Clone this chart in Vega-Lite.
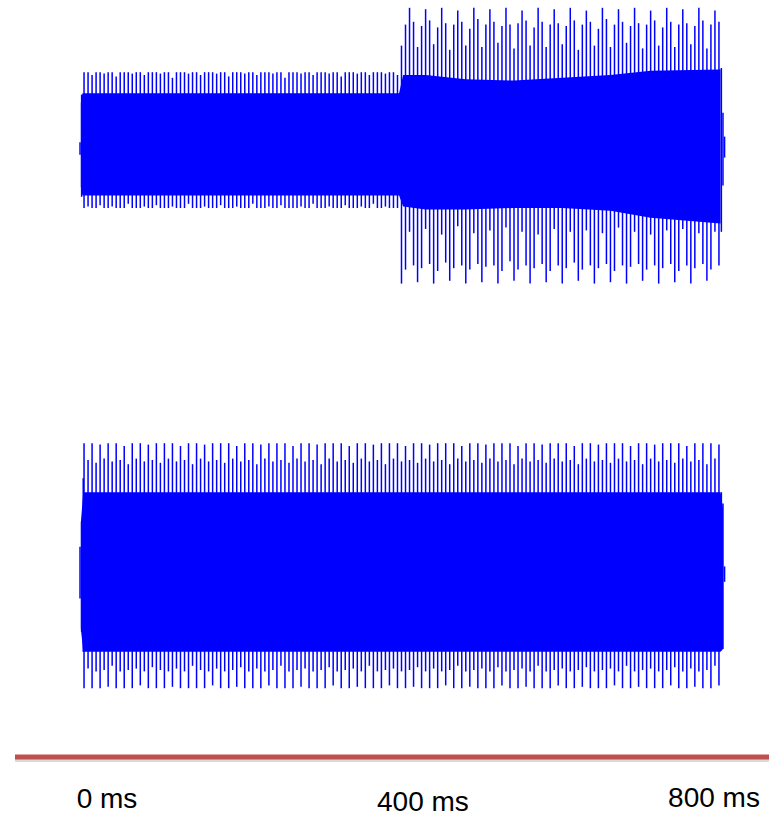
{
"$schema": "https://vega.github.io/schema/vega-lite/v6.json",
"padding": {"left": 12, "top": 0, "right": 0, "bottom": 0},
"spacing": 0,
"config": {"view": {"stroke": null}},
"datasets": {
"topc": [{"t":1,"a":0.3,"b":-0.3},{"t":3,"a":0.37,"b":-0.36},{"t":397,"a":0.37,"b":-0.36},{"t":402,"a":0.5,"b":-0.44},{"t":430,"a":0.5,"b":-0.46},{"t":480,"a":0.47,"b":-0.46},{"t":540,"a":0.46,"b":-0.45},{"t":600,"a":0.48,"b":-0.45},{"t":660,"a":0.5,"b":-0.47},{"t":710,"a":0.53,"b":-0.52},{"t":797,"a":0.54,"b":-0.56}],
"top": [
{"t":0,"h":0.02,"l":-0.07},{"t":2,"h":0.36,"l":-0.37},
{"t":5,"h":0.52,"l":-0.45},{"t":10,"h":0.52,"l":-0.44},{"t":15,"h":0.50,"l":-0.45},{"t":20,"h":0.52,"l":-0.45},{"t":25,"h":0.52,"l":-0.43},{"t":30,"h":0.51,"l":-0.45},{"t":35,"h":0.52,"l":-0.45},{"t":40,"h":0.52,"l":-0.44},{"t":45,"h":0.49,"l":-0.45},{"t":50,"h":0.52,"l":-0.45},
{"t":55,"h":0.52,"l":-0.45},{"t":60,"h":0.52,"l":-0.42},{"t":65,"h":0.51,"l":-0.45},{"t":70,"h":0.52,"l":-0.45},{"t":75,"h":0.52,"l":-0.45},{"t":80,"h":0.50,"l":-0.44},{"t":85,"h":0.52,"l":-0.45},{"t":90,"h":0.52,"l":-0.45},{"t":95,"h":0.52,"l":-0.43},{"t":100,"h":0.51,"l":-0.45},
{"t":105,"h":0.52,"l":-0.45},{"t":110,"h":0.52,"l":-0.45},{"t":115,"h":0.48,"l":-0.44},{"t":120,"h":0.52,"l":-0.45},{"t":125,"h":0.52,"l":-0.45},{"t":130,"h":0.52,"l":-0.45},{"t":135,"h":0.51,"l":-0.42},{"t":140,"h":0.52,"l":-0.45},{"t":145,"h":0.52,"l":-0.45},{"t":150,"h":0.50,"l":-0.45},
{"t":155,"h":0.52,"l":-0.44},{"t":160,"h":0.52,"l":-0.45},{"t":165,"h":0.52,"l":-0.45},{"t":170,"h":0.51,"l":-0.45},{"t":175,"h":0.52,"l":-0.43},{"t":180,"h":0.52,"l":-0.45},{"t":185,"h":0.49,"l":-0.45},{"t":190,"h":0.52,"l":-0.45},{"t":195,"h":0.52,"l":-0.44},{"t":200,"h":0.52,"l":-0.45},
{"t":205,"h":0.51,"l":-0.45},{"t":210,"h":0.52,"l":-0.45},{"t":215,"h":0.52,"l":-0.42},{"t":220,"h":0.50,"l":-0.45},{"t":225,"h":0.52,"l":-0.45},{"t":230,"h":0.52,"l":-0.45},{"t":235,"h":0.52,"l":-0.44},{"t":240,"h":0.51,"l":-0.45},{"t":245,"h":0.52,"l":-0.45},{"t":250,"h":0.52,"l":-0.43},
{"t":255,"h":0.48,"l":-0.45},{"t":260,"h":0.52,"l":-0.45},{"t":265,"h":0.52,"l":-0.45},{"t":270,"h":0.52,"l":-0.45},{"t":275,"h":0.51,"l":-0.44},{"t":280,"h":0.52,"l":-0.45},{"t":285,"h":0.52,"l":-0.45},{"t":290,"h":0.50,"l":-0.42},{"t":295,"h":0.52,"l":-0.45},{"t":300,"h":0.52,"l":-0.45},
{"t":305,"h":0.52,"l":-0.45},{"t":310,"h":0.51,"l":-0.44},{"t":315,"h":0.52,"l":-0.45},{"t":320,"h":0.52,"l":-0.45},{"t":325,"h":0.49,"l":-0.45},{"t":330,"h":0.52,"l":-0.43},{"t":335,"h":0.52,"l":-0.45},{"t":340,"h":0.52,"l":-0.45},{"t":345,"h":0.51,"l":-0.45},{"t":350,"h":0.52,"l":-0.44},
{"t":355,"h":0.52,"l":-0.45},{"t":360,"h":0.50,"l":-0.45},{"t":365,"h":0.52,"l":-0.42},{"t":370,"h":0.52,"l":-0.45},{"t":375,"h":0.52,"l":-0.45},{"t":380,"h":0.51,"l":-0.44},{"t":385,"h":0.52,"l":-0.45},{"t":390,"h":0.52,"l":-0.45},{"t":395,"h":0.50,"l":-0.45},
{"t":400,"h":0.71,"l":-0.99},{"t":405,"h":0.86,"l":-0.89},{"t":410,"h":0.98,"l":-0.62},{"t":415,"h":0.88,"l":-0.86},{"t":420,"h":0.70,"l":-0.98},{"t":425,"h":0.85,"l":-0.88},{"t":430,"h":0.97,"l":-0.60},{"t":435,"h":0.89,"l":-0.85},{"t":440,"h":0.72,"l":-0.99},{"t":445,"h":0.84,"l":-0.90},
{"t":450,"h":0.98,"l":-0.64},{"t":455,"h":0.87,"l":-0.84},{"t":460,"h":0.68,"l":-0.97},{"t":465,"h":0.86,"l":-0.88},{"t":470,"h":0.96,"l":-0.58},{"t":475,"h":0.88,"l":-0.86},{"t":480,"h":0.71,"l":-0.99},{"t":485,"h":0.83,"l":-0.89},{"t":490,"h":0.98,"l":-0.63},{"t":495,"h":0.90,"l":-0.85},
{"t":500,"h":0.70,"l":-0.98},{"t":505,"h":0.86,"l":-0.87},{"t":510,"h":0.97,"l":-0.61},{"t":515,"h":0.88,"l":-0.86},{"t":520,"h":0.73,"l":-0.99},{"t":525,"h":0.85,"l":-0.90},{"t":530,"h":0.98,"l":-0.59},{"t":535,"h":0.86,"l":-0.83},{"t":540,"h":0.69,"l":-0.97},{"t":545,"h":0.87,"l":-0.89},
{"t":550,"h":0.96,"l":-0.62},{"t":555,"h":0.89,"l":-0.86},{"t":560,"h":0.71,"l":-0.99},{"t":565,"h":0.84,"l":-0.88},{"t":570,"h":0.98,"l":-0.64},{"t":575,"h":0.88,"l":-0.85},{"t":580,"h":0.70,"l":-0.98},{"t":585,"h":0.86,"l":-0.90},{"t":590,"h":0.97,"l":-0.60},{"t":595,"h":0.87,"l":-0.86},
{"t":600,"h":0.72,"l":-0.99},{"t":605,"h":0.85,"l":-0.88},{"t":610,"h":0.98,"l":-0.62},{"t":615,"h":0.89,"l":-0.84},{"t":620,"h":0.68,"l":-0.97},{"t":625,"h":0.86,"l":-0.89},{"t":630,"h":0.96,"l":-0.61},{"t":635,"h":0.88,"l":-0.86},{"t":640,"h":0.71,"l":-0.99},{"t":645,"h":0.83,"l":-0.88},
{"t":650,"h":0.98,"l":-0.63},{"t":655,"h":0.90,"l":-0.85},{"t":660,"h":0.70,"l":-0.98},{"t":665,"h":0.86,"l":-0.90},{"t":670,"h":0.97,"l":-0.59},{"t":675,"h":0.88,"l":-0.86},{"t":680,"h":0.73,"l":-0.99},{"t":685,"h":0.85,"l":-0.87},{"t":690,"h":0.98,"l":-0.62},{"t":695,"h":0.87,"l":-0.85},
{"t":700,"h":0.69,"l":-0.97},{"t":705,"h":0.86,"l":-0.89},{"t":710,"h":0.96,"l":-0.64},{"t":715,"h":0.89,"l":-0.86},{"t":720,"h":0.71,"l":-0.99},{"t":725,"h":0.84,"l":-0.88},{"t":730,"h":0.98,"l":-0.61},{"t":735,"h":0.88,"l":-0.85},{"t":740,"h":0.70,"l":-0.98},{"t":745,"h":0.86,"l":-0.90},
{"t":750,"h":0.97,"l":-0.60},{"t":755,"h":0.87,"l":-0.86},{"t":760,"h":0.72,"l":-0.99},{"t":765,"h":0.85,"l":-0.88},{"t":770,"h":0.98,"l":-0.63},{"t":775,"h":0.89,"l":-0.85},{"t":780,"h":0.69,"l":-0.97},{"t":785,"h":0.86,"l":-0.89},{"t":790,"h":0.96,"l":-0.62},{"t":795,"h":0.88,"l":-0.86},
{"t":798,"h":0.55,"l":-0.62},{"t":800,"h":0.23,"l":-0.29},{"t":802,"h":0.06,"l":-0.09}
],
"botc": [{"t":1,"a":0.3,"b":-0.45},{"t":4,"a":0.52,"b":-0.62},{"t":797,"a":0.52,"b":-0.62},{"t":800,"a":0.4,"b":-0.6}],
"bot": [
{"t":0,"h":0.13,"l":-0.24},{"t":2,"h":0.31,"l":-0.48},{"t":4,"h":0.62,"l":-0.62},
{"t":5,"h":0.87,"l":-0.88},{"t":10,"h":0.75,"l":-0.74},{"t":15,"h":0.87,"l":-0.88},{"t":20,"h":0.73,"l":-0.76},{"t":25,"h":0.86,"l":-0.88},{"t":30,"h":0.76,"l":-0.75},{"t":35,"h":0.87,"l":-0.87},{"t":40,"h":0.74,"l":-0.72},{"t":45,"h":0.87,"l":-0.88},{"t":50,"h":0.75,"l":-0.76},
{"t":55,"h":0.85,"l":-0.88},{"t":60,"h":0.72,"l":-0.75},{"t":65,"h":0.87,"l":-0.88},{"t":70,"h":0.76,"l":-0.74},{"t":75,"h":0.87,"l":-0.86},{"t":80,"h":0.74,"l":-0.76},{"t":85,"h":0.86,"l":-0.88},{"t":90,"h":0.75,"l":-0.73},{"t":95,"h":0.87,"l":-0.88},{"t":100,"h":0.73,"l":-0.75},
{"t":105,"h":0.87,"l":-0.88},{"t":110,"h":0.76,"l":-0.76},{"t":115,"h":0.87,"l":-0.87},{"t":120,"h":0.74,"l":-0.74},{"t":125,"h":0.85,"l":-0.88},{"t":130,"h":0.75,"l":-0.76},{"t":135,"h":0.87,"l":-0.88},{"t":140,"h":0.72,"l":-0.72},{"t":145,"h":0.87,"l":-0.88},{"t":150,"h":0.76,"l":-0.75},
{"t":155,"h":0.86,"l":-0.88},{"t":160,"h":0.74,"l":-0.76},{"t":165,"h":0.87,"l":-0.86},{"t":170,"h":0.75,"l":-0.74},{"t":175,"h":0.87,"l":-0.88},{"t":180,"h":0.73,"l":-0.76},{"t":185,"h":0.87,"l":-0.88},{"t":190,"h":0.76,"l":-0.75},{"t":195,"h":0.85,"l":-0.87},{"t":200,"h":0.74,"l":-0.73},
{"t":205,"h":0.87,"l":-0.88},{"t":210,"h":0.75,"l":-0.76},{"t":215,"h":0.87,"l":-0.88},{"t":220,"h":0.72,"l":-0.74},{"t":225,"h":0.86,"l":-0.88},{"t":230,"h":0.76,"l":-0.76},{"t":235,"h":0.87,"l":-0.86},{"t":240,"h":0.74,"l":-0.75},{"t":245,"h":0.87,"l":-0.88},{"t":250,"h":0.75,"l":-0.72},
{"t":255,"h":0.87,"l":-0.88},{"t":260,"h":0.73,"l":-0.76},{"t":265,"h":0.85,"l":-0.88},{"t":270,"h":0.76,"l":-0.75},{"t":275,"h":0.87,"l":-0.87},{"t":280,"h":0.74,"l":-0.74},{"t":285,"h":0.87,"l":-0.88},{"t":290,"h":0.75,"l":-0.76},{"t":295,"h":0.86,"l":-0.88},{"t":300,"h":0.72,"l":-0.75},
{"t":305,"h":0.87,"l":-0.88},{"t":310,"h":0.76,"l":-0.73},{"t":315,"h":0.87,"l":-0.86},{"t":320,"h":0.74,"l":-0.76},{"t":325,"h":0.87,"l":-0.88},{"t":330,"h":0.75,"l":-0.75},{"t":335,"h":0.85,"l":-0.88},{"t":340,"h":0.73,"l":-0.74},{"t":345,"h":0.87,"l":-0.87},{"t":350,"h":0.76,"l":-0.76},
{"t":355,"h":0.87,"l":-0.88},{"t":360,"h":0.74,"l":-0.72},{"t":365,"h":0.86,"l":-0.88},{"t":370,"h":0.75,"l":-0.76},{"t":375,"h":0.87,"l":-0.88},{"t":380,"h":0.72,"l":-0.75},{"t":385,"h":0.87,"l":-0.86},{"t":390,"h":0.76,"l":-0.74},{"t":395,"h":0.87,"l":-0.88},{"t":400,"h":0.74,"l":-0.76},
{"t":405,"h":0.85,"l":-0.88},{"t":410,"h":0.75,"l":-0.75},{"t":415,"h":0.87,"l":-0.87},{"t":420,"h":0.73,"l":-0.73},{"t":425,"h":0.87,"l":-0.88},{"t":430,"h":0.76,"l":-0.76},{"t":435,"h":0.86,"l":-0.88},{"t":440,"h":0.74,"l":-0.74},{"t":445,"h":0.87,"l":-0.88},{"t":450,"h":0.75,"l":-0.76},
{"t":455,"h":0.87,"l":-0.86},{"t":460,"h":0.72,"l":-0.75},{"t":465,"h":0.87,"l":-0.88},{"t":470,"h":0.76,"l":-0.72},{"t":475,"h":0.85,"l":-0.88},{"t":480,"h":0.74,"l":-0.76},{"t":485,"h":0.87,"l":-0.87},{"t":490,"h":0.75,"l":-0.75},{"t":495,"h":0.87,"l":-0.88},{"t":500,"h":0.73,"l":-0.74},
{"t":505,"h":0.86,"l":-0.88},{"t":510,"h":0.76,"l":-0.76},{"t":515,"h":0.87,"l":-0.88},{"t":520,"h":0.74,"l":-0.73},{"t":525,"h":0.87,"l":-0.86},{"t":530,"h":0.75,"l":-0.76},{"t":535,"h":0.87,"l":-0.88},{"t":540,"h":0.72,"l":-0.75},{"t":545,"h":0.85,"l":-0.88},{"t":550,"h":0.76,"l":-0.74},
{"t":555,"h":0.87,"l":-0.87},{"t":560,"h":0.74,"l":-0.76},{"t":565,"h":0.87,"l":-0.88},{"t":570,"h":0.75,"l":-0.72},{"t":575,"h":0.86,"l":-0.88},{"t":580,"h":0.73,"l":-0.76},{"t":585,"h":0.87,"l":-0.88},{"t":590,"h":0.76,"l":-0.75},{"t":595,"h":0.87,"l":-0.86},{"t":600,"h":0.74,"l":-0.74},
{"t":605,"h":0.87,"l":-0.88},{"t":610,"h":0.75,"l":-0.76},{"t":615,"h":0.85,"l":-0.88},{"t":620,"h":0.72,"l":-0.75},{"t":625,"h":0.87,"l":-0.87},{"t":630,"h":0.76,"l":-0.73},{"t":635,"h":0.87,"l":-0.88},{"t":640,"h":0.74,"l":-0.76},{"t":645,"h":0.86,"l":-0.88},{"t":650,"h":0.75,"l":-0.75},
{"t":655,"h":0.87,"l":-0.88},{"t":660,"h":0.73,"l":-0.74},{"t":665,"h":0.87,"l":-0.86},{"t":670,"h":0.76,"l":-0.76},{"t":675,"h":0.87,"l":-0.88},{"t":680,"h":0.74,"l":-0.72},{"t":685,"h":0.85,"l":-0.88},{"t":690,"h":0.75,"l":-0.76},{"t":695,"h":0.87,"l":-0.87},{"t":700,"h":0.72,"l":-0.75},
{"t":705,"h":0.87,"l":-0.88},{"t":710,"h":0.76,"l":-0.74},{"t":715,"h":0.86,"l":-0.88},{"t":720,"h":0.74,"l":-0.76},{"t":725,"h":0.87,"l":-0.88},{"t":730,"h":0.75,"l":-0.75},{"t":735,"h":0.87,"l":-0.86},{"t":740,"h":0.73,"l":-0.73},{"t":745,"h":0.87,"l":-0.88},{"t":750,"h":0.76,"l":-0.76},
{"t":755,"h":0.85,"l":-0.88},{"t":760,"h":0.74,"l":-0.74},{"t":765,"h":0.87,"l":-0.87},{"t":770,"h":0.75,"l":-0.76},{"t":775,"h":0.87,"l":-0.88},{"t":780,"h":0.72,"l":-0.75},{"t":785,"h":0.87,"l":-0.88},{"t":790,"h":0.76,"l":-0.72},{"t":795,"h":0.86,"l":-0.86},
{"t":798,"h":0.52,"l":-0.61},{"t":800,"h":0.44,"l":-0.60},{"t":802,"h":-0.01,"l":-0.12}
],
"line": [{"t0":-80.9,"t1":861,"lv":0.779}],
"labels": [{"label":"0 ms","t":33.6,"lv":0.117},{"label":"400 ms","t":426.7,"lv":0.078},{"label":"800 ms","t":788.8,"lv":0.13}]
},
"vconcat": [
{
"width": 757, "height": 360,
"layer": [
{"data": {"name": "topc"}, "mark": {"type": "area", "color": "#0000FF", "opacity": 1},
 "encoding": {"x": {"field": "t", "type": "quantitative", "scale": {"domain": [-80.9, 861], "nice": false, "zero": false}, "axis": null},
  "y": {"field": "a", "type": "quantitative", "scale": {"domain": [-1.5357, 1.0357], "nice": false, "zero": false}, "axis": null},
  "y2": {"field": "b"}}},
{"data": {"name": "top"}, "mark": {"type": "rule", "color": "#0000FF", "strokeWidth": 1.5},
 "encoding": {"x": {"field": "t", "type": "quantitative", "scale": {"domain": [-80.9, 861], "nice": false, "zero": false}, "axis": null},
  "y": {"field": "h", "type": "quantitative", "scale": {"domain": [-1.5357, 1.0357], "nice": false, "zero": false}, "axis": null},
  "y2": {"field": "l"}}}
]
},
{
"width": 757, "height": 380,
"layer": [
{"data": {"name": "botc"}, "mark": {"type": "area", "color": "#0000FF", "opacity": 1},
 "encoding": {"x": {"field": "t", "type": "quantitative", "scale": {"domain": [-80.9, 861], "nice": false, "zero": false}, "axis": null},
  "y": {"field": "a", "type": "quantitative", "scale": {"domain": [-1.25, 1.4643], "nice": false, "zero": false}, "axis": null},
  "y2": {"field": "b"}}},
{"data": {"name": "bot"}, "mark": {"type": "rule", "color": "#0000FF", "strokeWidth": 1.5},
 "encoding": {"x": {"field": "t", "type": "quantitative", "scale": {"domain": [-80.9, 861], "nice": false, "zero": false}, "axis": null},
  "y": {"field": "h", "type": "quantitative", "scale": {"domain": [-1.25, 1.4643], "nice": false, "zero": false}, "axis": null},
  "y2": {"field": "l"}}}
]
},
{
"width": 757, "height": 77,
"layer": [
{"data": {"name": "line"}, "mark": {"type": "rule", "color": "#000000", "opacity": 0.15, "strokeWidth": 4, "yOffset": 3},
 "encoding": {"x": {"field": "t0", "type": "quantitative", "scale": {"domain": [-80.9, 861], "nice": false, "zero": false}, "axis": null},
  "x2": {"field": "t1"},
  "y": {"field": "lv", "type": "quantitative", "scale": {"domain": [0, 1], "nice": false}, "axis": null}}},
{"data": {"name": "line"}, "mark": {"type": "rule", "color": "#C0504D", "strokeWidth": 5},
 "encoding": {"x": {"field": "t0", "type": "quantitative", "scale": {"domain": [-80.9, 861], "nice": false, "zero": false}, "axis": null},
  "x2": {"field": "t1"},
  "y": {"field": "lv", "type": "quantitative", "scale": {"domain": [0, 1], "nice": false}, "axis": null}}},
{"data": {"name": "labels"}, "mark": {"type": "text", "font": "Liberation Sans", "fontSize": 28, "align": "center", "baseline": "alphabetic", "color": "#000000"},
 "encoding": {"x": {"field": "t", "type": "quantitative", "scale": {"domain": [-80.9, 861], "nice": false, "zero": false}, "axis": null},
  "y": {"field": "lv", "type": "quantitative", "scale": {"domain": [0, 1], "nice": false}, "axis": null},
  "text": {"field": "label"}}}
]
}
]
}
